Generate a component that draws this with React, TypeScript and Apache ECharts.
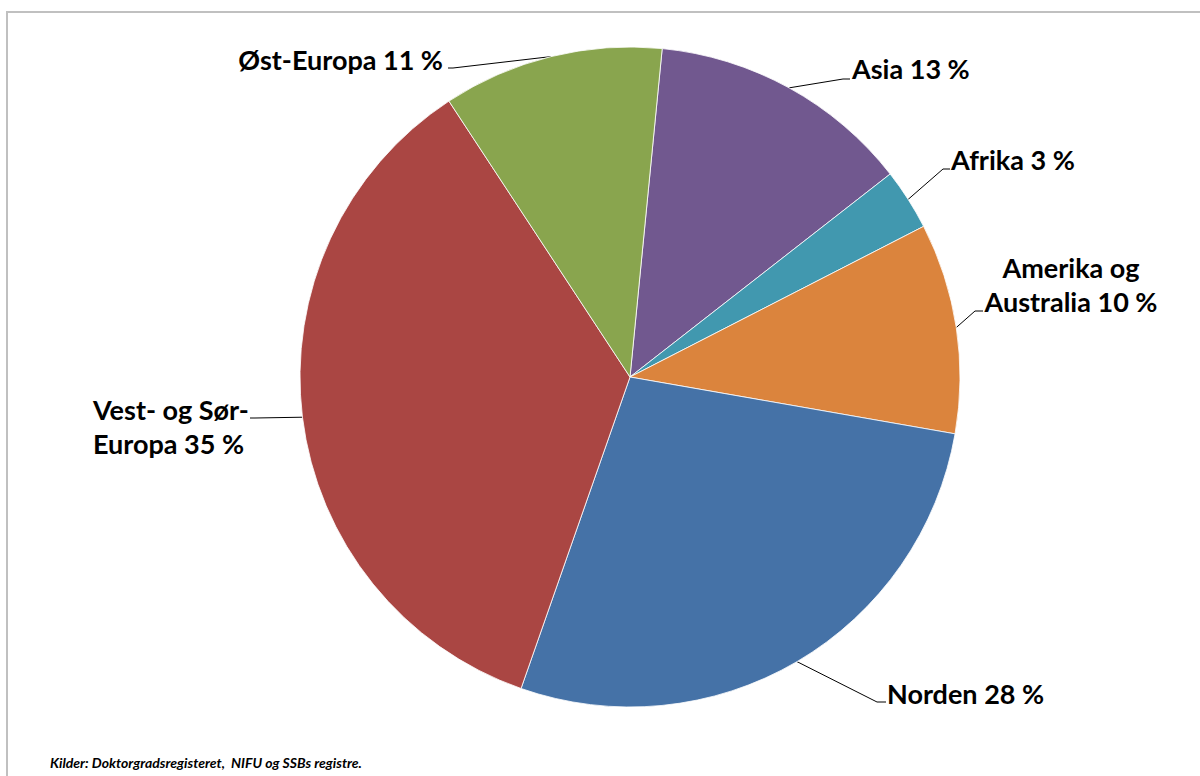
import React, { useEffect, useRef } from "react";
import * as echarts from "echarts";

const categories = ["Asia", "Afrika", "Amerika og\nAustralia", "Norden", "Vest- og Sør-\nEuropa", "Øst-Europa"];
const shares = [12.9, 3.0, 10.3, 27.6, 35.4, 10.8];
const shareLabels = ["13 %", "3 %", "10 %", "28 %", "35 %", "11 %"];
const colors = ["#71588F", "#4198AF", "#DB843D", "#4572A7", "#AA4643", "#89A54E"];
const sourceNote = "Kilder: Doktorgradsregisteret,  NIFU og SSBs registre.";

// label layout (annotation placement, not data)
const placements: any[] = [
  { x: 852, y: 68, align: "left", bend: [843, 79], end: [850, 79] },
  { x: 951, y: 159, align: "left", bend: [943, 169], end: [950, 169] },
  { x: 1071, y: 284, align: "center", bend: [975, 311], end: [983, 311] },
  { x: 887, y: 693, align: "left", bend: [877, 702], end: [886, 702] },
  { x: 93, y: 426, align: "left", bend: [255, 418], end: [250, 418] },
  { x: 443, y: 59, align: "right", bend: [453, 68], end: [448, 68] },
];

export default function App() {
  const ref = useRef<HTMLDivElement>(null);
  useEffect(() => {
    if (!ref.current) return;
    const chart = echarts.init(ref.current, undefined, { renderer: "svg" });
    const data = categories.map((name, i) => ({
      name,
      value: shares[i],
      itemStyle: { color: colors[i] },
    }));
    chart.setOption({
      animation: false,
      backgroundColor: "#ffffff",
      graphic: [
        {
          type: "rect",
          shape: { x: 7, y: 12, width: 1400, height: 1000 },
          style: { fill: "none", stroke: "#c0c0c0", lineWidth: 2 },
          silent: true,
        },
        {
          type: "text",
          left: 50,
          top: 755,
          style: {
            text: sourceNote,
            fontFamily: "Lato",
            fontStyle: "italic",
            fontWeight: "bold",
            fontSize: 14,
            fill: "#000",
          },
        },
      ],
      series: [
        {
          type: "pie",
          center: [630, 377],
          radius: 330,
          startAngle: 84.4,
          clockwise: true,
          avoidLabelOverlap: false,
          itemStyle: { borderColor: "#ffffff", borderWidth: 0.8 },
          label: {
            show: true,
            position: "outside",
            formatter: (p: any) => `${p.name} ${shareLabels[p.dataIndex]}`,
            color: "#000",
            fontFamily: "Lato",
            fontWeight: "bold",
            fontSize: 27,
            lineHeight: 34,
          },
          labelLine: {
            show: true,
            length: 10,
            length2: 10,
            smooth: false,
            lineStyle: { color: "#000", width: 1 },
          },
          labelLayout: (params: any) => {
            const p = placements[params.dataIndex];
            const pts = params.labelLinePoints;
            const start = pts && pts[0] ? [pts[0][0], pts[0][1]] : null;
            const out: any = { x: p.x, y: p.y, align: p.align, verticalAlign: "middle" };
            if (start) out.labelLinePoints = [start, p.bend, p.end];
            return out;
          },
          data,
        },
      ],
    });
    return () => chart.dispose();
  }, []);
  return (
    <div
      ref={ref}
      style={{ position: "fixed", left: 0, top: 0, width: 1200, height: 776 }}
    />
  );
}
